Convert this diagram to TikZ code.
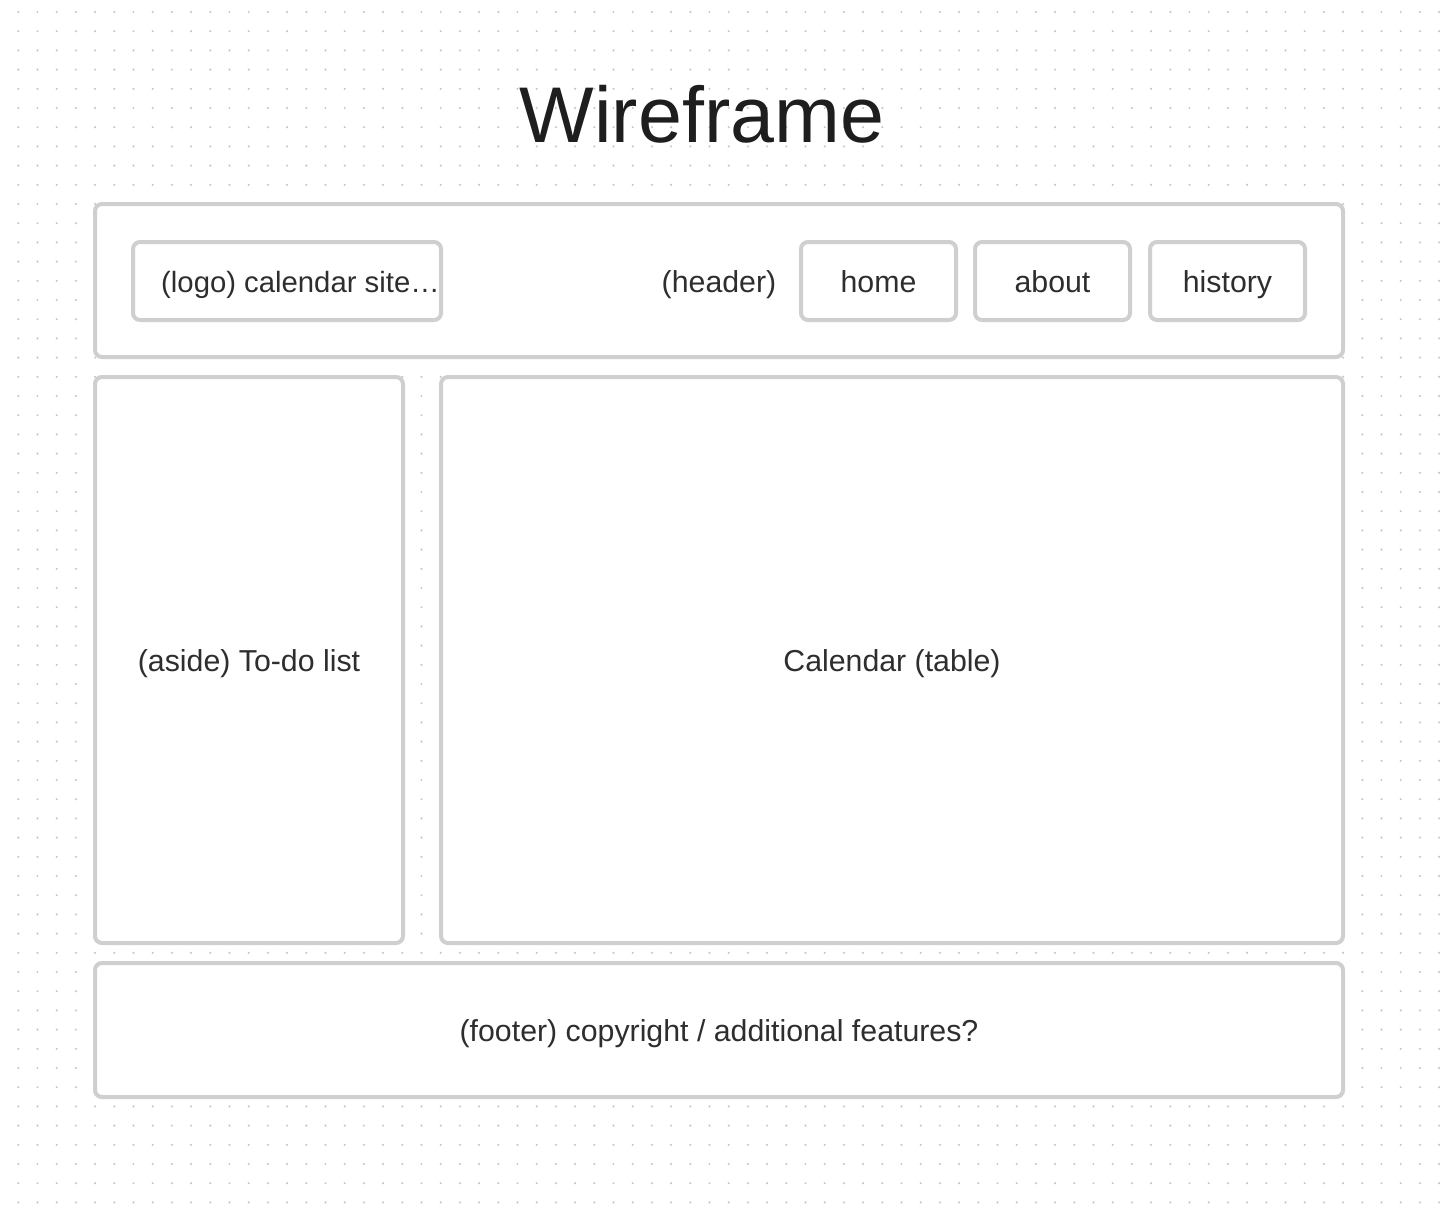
\documentclass[tikz,border=0pt]{standalone}
\usepackage{fontspec}
\setmainfont{Liberation Sans}
\definecolor{boxgray}{HTML}{CFCFCF}
\definecolor{labelgray}{HTML}{2E2E2E}
\definecolor{titlegray}{HTML}{1E1E1E}
\definecolor{dotgray}{HTML}{C8C8C8}
\begin{document}
\begin{tikzpicture}[x=1pt,y=-1pt,
  panel/.style={draw=boxgray, line width=4pt, rounded corners=7pt, fill=white,
    rectangle, inner sep=0pt, anchor=center, text=labelgray,
    text height=23pt, text depth=1pt,
    font=\fontsize{30.3}{35}\selectfont},
  label/.style={text=labelgray, font=\fontsize{30.3}{35}\selectfont, inner sep=0pt}]
\useasboundingbox (0,0) rectangle (1448,1208);
\fill[white] (0,0) rectangle (1448,1208);
% dotted canvas grid
\foreach \i in {0,...,74}{
  \foreach \j in {0,...,62}{
    \fill[dotgray] (18.3+19.2*\i, 12+19.2*\j) circle (1.2pt);
  }
}
% title
\node[text=titlegray, font=\fontsize{79}{90}\selectfont, inner sep=0pt, anchor=base]
  (title) at (702,142) {Wireframe};
% header bar with logo and navigation
\node[panel, minimum width=1248pt, minimum height=153pt] (header) at (719,280.5) {};
\node[panel, minimum width=308pt, minimum height=78pt] (logo) at (287,281) {};
\node[label, anchor=base west, font=\fontsize{29.3}{35}\selectfont] (logotext) at (161,292) {(logo) calendar site…};
\node[label, anchor=base] (headertext) at (719,292) {(header)};
\node[panel, minimum width=155pt, minimum height=78pt] (home) at (878.5,281) {home};
\node[panel, minimum width=155pt, minimum height=78pt] (about) at (1052.5,281) {about};
\node[panel, minimum width=155pt, minimum height=78pt] (history) at (1227.5,281) {history};
% main content
\node[panel, minimum width=308pt, minimum height=566pt] (aside) at (249,660) {(aside) To-do list};
\node[panel, minimum width=902pt, minimum height=566pt] (calendar) at (892,660) {Calendar (table)};
% footer
\node[panel, minimum width=1248pt, minimum height=134pt] (footer) at (719,1030) {(footer) copyright / additional features?};
\end{tikzpicture}
\end{document}
